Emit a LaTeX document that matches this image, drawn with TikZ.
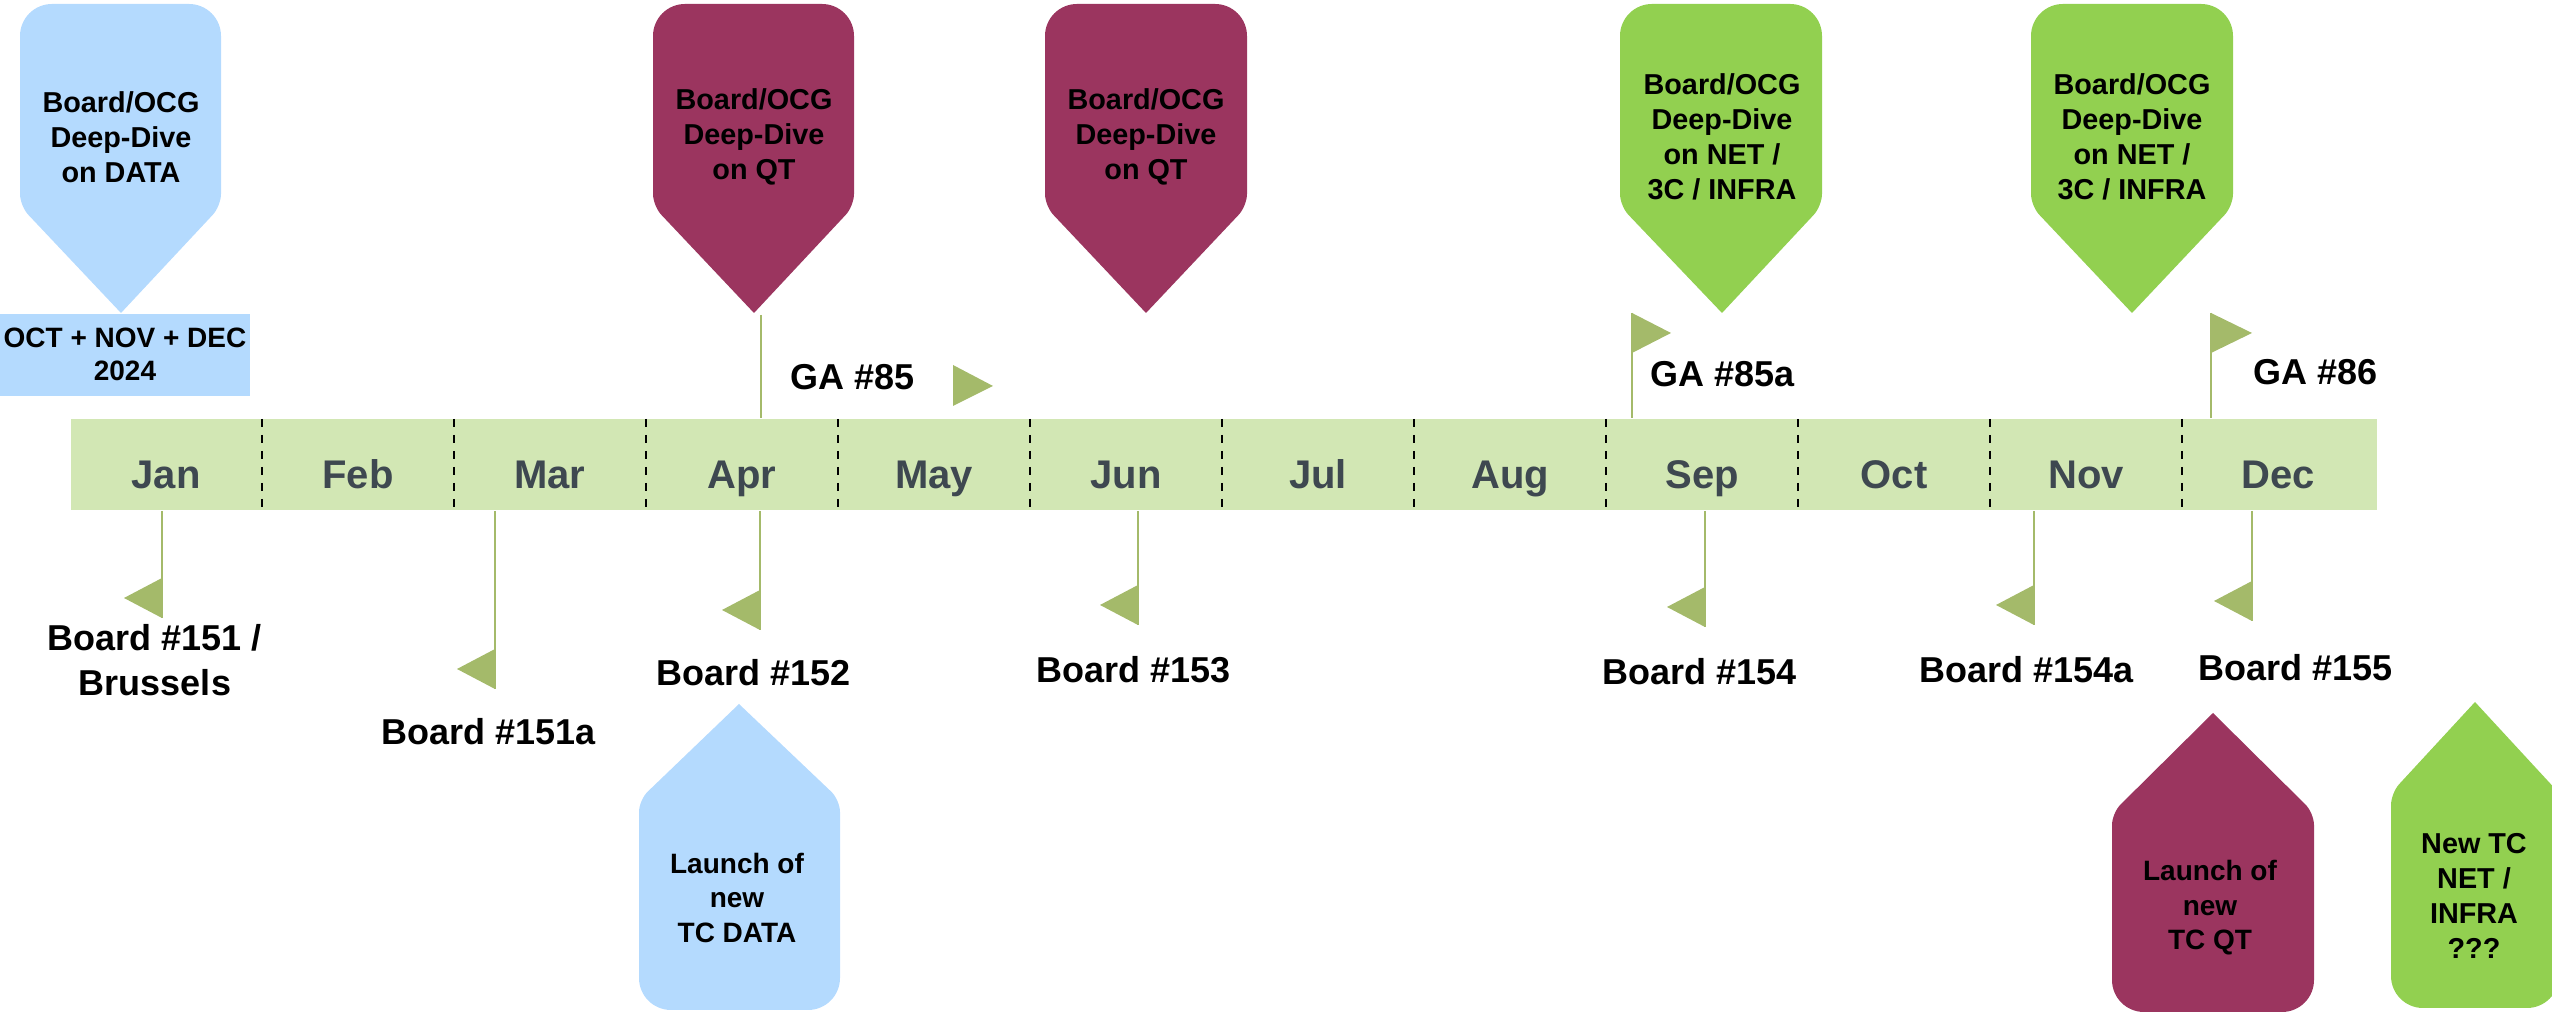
\documentclass[tikz,border=0pt]{standalone}
\usepackage{fontspec}
\setmainfont{Liberation Sans}
\usetikzlibrary{positioning}
\usetikzlibrary{calc}

\definecolor{barfill}{RGB}{210,231,180}
\definecolor{flaggreen}{RGB}{164,186,106}
\definecolor{monthgrey}{RGB}{62,72,80}
\definecolor{datablue}{RGB}{180,218,254}
\definecolor{qtred}{RGB}{155,53,95}
\definecolor{netgreen}{RGB}{146,208,80}

% marker: colour, left, right, tip x, tip y, shoulder y, far y
\newcommand{\marker}[7]{%
	\fill[#1] (#4,#5) [rounded corners=3pt] -- (#2,#6) [rounded corners=8pt] -- (#2,#7) -- (#3,#7)
		[rounded corners=3pt] -- (#3,#6) -- (#4,#5);}

\begin{document}
\begin{tikzpicture}[x=0.25pt,y=-0.25pt,
					pintext/.style={align=center,font=\fontsize{7.2}{8.75}\selectfont\bfseries},
					label/.style={align=center,font=\fontsize{9}{11.25}\selectfont\bfseries},
					galabel/.style={label,anchor=base west,inner xsep=0pt},
					month/.style={anchor=base,text=monthgrey,font=\fontsize{10}{12}\selectfont\bfseries},
					bar/.style={fill=barfill,inner sep=0pt,minimum width=576.5pt,minimum height=22.75pt},
					divider/.style={draw=black,line width=0.35pt,dash pattern=on 2pt off 2pt},
					pole/.style={draw=flaggreen,line width=0.5pt},
					flag/.style={fill=flaggreen}]
	\useasboundingbox (0,0) rectangle (2552,1013);
	
	% timeline
	\node[bar] (bar) at (1224,464.5) {};
	\foreach \i in {0,...,10}
		\draw[divider] ({262+192*\i},419) -- ({262+192*\i},510);
	\foreach \m [count=\i from 0] in {Jan,Feb,Mar,Apr,May,Jun,Jul,Aug,Sep,Oct,Nov,Dec}
		\node[month] (m\i) at ({166+192*\i},489) {\m};
	
	% deep-dive markers
	\marker{datablue}{20}{221}{121}{313}{206}{4}
	\node[pintext] (dataDive) at (121,137) {Board/OCG\\Deep-Dive\\on DATA};
	\fill[datablue] (0,314) rectangle (250,396);
	\node[pintext,font=\fontsize{7}{8.25}\selectfont\bfseries] (dataWhen) at (125,354) {OCT + NOV + DEC\\2024};
	
	\marker{qtred}{653}{854}{754}{313}{206}{4}
	\node[pintext] (qtDiveA) at (754,137) {Board/OCG\\Deep-Dive\\on QT};
	\marker{qtred}{1045}{1247}{1146}{313}{206}{4}
	\node[pintext] (qtDiveB) at (1146,137) {Board/OCG\\Deep-Dive\\on QT};
	
	\marker{netgreen}{1620}{1822}{1722}{313}{206}{4}
	\node[pintext] (netDiveA) at (1722,137) {Board/OCG\\Deep-Dive\\on NET /\\3C / INFRA};
	\marker{netgreen}{2031}{2233}{2132}{313}{206}{4}
	\node[pintext] (netDiveB) at (2132,137) {Board/OCG\\Deep-Dive\\on NET /\\3C / INFRA};
	
	% general assemblies
	\coordinate (ga85) at (761,315);
	\draw[pole] (ga85) -- (ga85 |- bar.north);
	\node[galabel] (ga85lab) at (790,390) {GA \#85};
	\fill[flag] (953,365) -- (953,406) -- (993,386) -- cycle;
	
	\coordinate (ga85a) at (1632,313);
	\draw[pole] (ga85a) -- (ga85a |- bar.north);
	\fill[flag] (ga85a) -- ++(0,40) -- ++(39,-20) -- cycle;
	\node[galabel] (ga85alab) at (1650,387) {GA \#85a};
	
	\coordinate (ga86) at (2211,313);
	\draw[pole] (ga86) -- (ga86 |- bar.north);
	\fill[flag] (ga86) -- ++(0,40) -- ++(41,-20) -- cycle;
	\node[galabel] (ga86lab) at (2253,385) {GA \#86};
	
	% board meetings
	\foreach \px/\py [count=\k] in {162/618,495/689,760/630,1138/625,1705/627,2034/625,2252/621}
	{
		\coordinate (b\k) at (\px,\py);
		\draw[pole] (b\k |- bar.south) -- (b\k);
		\fill[flag] (b\k) -- ++(0,-40) -- ++(-38,20) -- cycle;
	}
	\node[label] (bd151) at (155,660) {Board \#151 /\\Brussels};
	\node[label,anchor=base] (bd151a) at (489,745) {Board \#151a};
	\node[label,anchor=base] (bd152) at (754,686) {Board \#152};
	\node[label,anchor=base] (bd153) at (1134,683) {Board \#153};
	\node[label,anchor=base] (bd154) at (1700,685) {Board \#154};
	\node[label,anchor=base] (bd154a) at (2027,683) {Board \#154a};
	\node[label,anchor=base] (bd155) at (2296,681) {Board \#155};
	
	% launches
	\marker{datablue}{639}{840}{739}{704}{800}{1010}
	\node[pintext,font=\fontsize{7}{8.6}\selectfont\bfseries] (dataLaunch) at (737,898) {Launch of\\new\\TC DATA};
	\marker{qtred}{2112}{2314}{2213}{713}{813}{1012}
	\node[pintext,font=\fontsize{7}{8.6}\selectfont\bfseries] (qtLaunch) at (2210,908) {Launch of\\new\\TC QT};
	\marker{netgreen}{2391}{2559}{2475}{702}{793}{1008}
	\node[pintext] (netLaunch) at (2474,896) {New TC\\NET /\\INFRA\\???};
\end{tikzpicture}
\end{document}
